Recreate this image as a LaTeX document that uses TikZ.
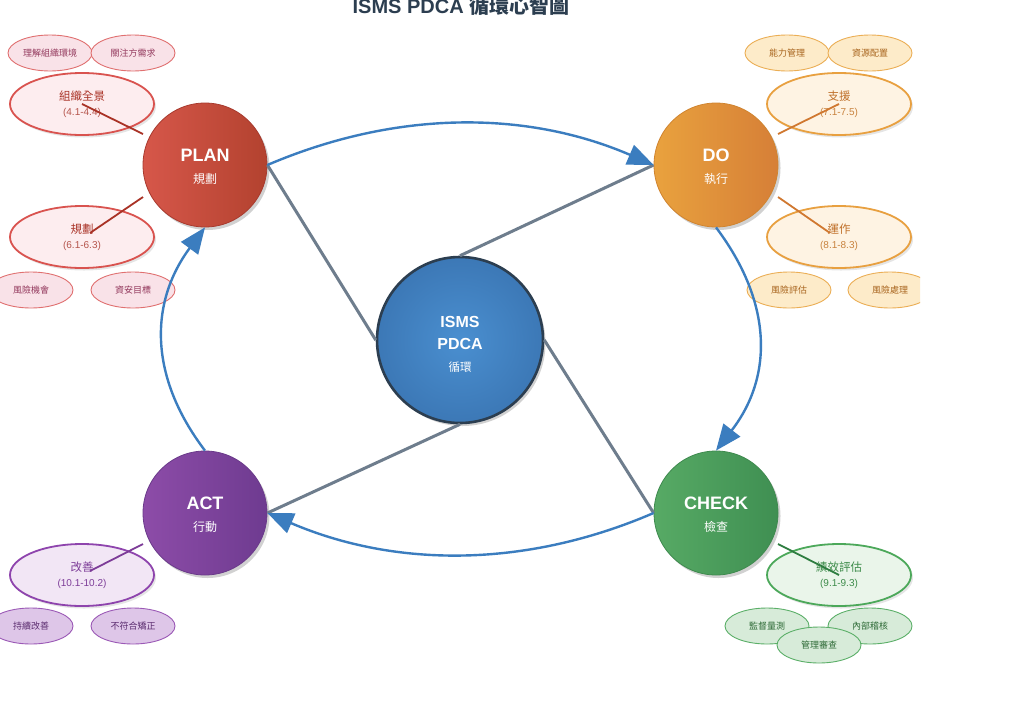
\documentclass[tikz,border=0pt]{standalone}
\usepackage{fontspec}
\setmainfont{Liberation Sans}
\newfontfamily\cjk{Noto Sans CJK TC}
\usetikzlibrary{shapes.geometric,arrows.meta,shadows,calc}
\definecolor{titlec}{HTML}{2C3E50}
\definecolor{planL}{HTML}{D6574A}
\definecolor{planR}{HTML}{B3422F}
\definecolor{planB}{HTML}{A83A2E}
\definecolor{doL}{HTML}{E9A23E}
\definecolor{doR}{HTML}{D67F37}
\definecolor{doB}{HTML}{D0842F}
\definecolor{actL}{HTML}{8D4CA8}
\definecolor{actR}{HTML}{6E3B90}
\definecolor{actB}{HTML}{6A3A8A}
\definecolor{chkL}{HTML}{57AA65}
\definecolor{chkR}{HTML}{3F8F52}
\definecolor{chkB}{HTML}{3E8A4E}
\definecolor{hubI}{HTML}{4A8FD0}
\definecolor{hubO}{HTML}{3C78B6}
\definecolor{hubB}{HTML}{2C3E50}
\definecolor{flowc}{HTML}{3B7DBF}
\definecolor{spokec}{HTML}{6E7D8D}
% PLAN group
\definecolor{pMainF}{HTML}{FDEDEF}
\definecolor{pMainD}{HTML}{D9534F}
\definecolor{pLeafF}{HTML}{F9E2E8}
\definecolor{pLeafD}{HTML}{E07070}
\definecolor{pText}{HTML}{A93226}
\definecolor{pSub}{HTML}{B5554C}
\definecolor{pLeafT}{HTML}{943A5E}
% DO group
\definecolor{dMainF}{HTML}{FEF3E3}
\definecolor{dMainD}{HTML}{E8A040}
\definecolor{dLeafF}{HTML}{FDEBC9}
\definecolor{dLeafD}{HTML}{EBAE55}
\definecolor{dText}{HTML}{C0702A}
\definecolor{dSub}{HTML}{C8823E}
\definecolor{dLeafT}{HTML}{A8651E}
\definecolor{dLine}{HTML}{D07830}
% ACT group
\definecolor{aMainF}{HTML}{F2E6F5}
\definecolor{aMainD}{HTML}{8E44AD}
\definecolor{aLeafF}{HTML}{DEC6E8}
\definecolor{aLeafD}{HTML}{9B59B6}
\definecolor{aText}{HTML}{7D3C98}
\definecolor{aLeafT}{HTML}{5B2C6F}
% CHECK group
\definecolor{cMainF}{HTML}{EAF5EA}
\definecolor{cMainD}{HTML}{4CA85A}
\definecolor{cLeafF}{HTML}{D7EBD9}
\definecolor{cLeafD}{HTML}{5BAF68}
\definecolor{cText}{HTML}{3D8B4A}
\definecolor{cLeafT}{HTML}{2D6A36}
\definecolor{cLine}{HTML}{2E7D40}
\tikzset{
  phase/.style={circle, minimum size=124pt, inner sep=0pt, text=white, align=center, line width=0.8pt,
    font=\fontsize{12}{22}\selectfont,
    drop shadow={shadow xshift=2.5pt, shadow yshift=-3pt, opacity=0.18, fill=black}},
  topic/.style={ellipse, minimum width=144pt, minimum height=62pt, inner sep=0pt, line width=1.8pt, align=center,
    font=\fontsize{10}{15}\selectfont,
    drop shadow={shadow xshift=2pt, shadow yshift=-2.5pt, opacity=0.10, fill=black}},
  leaf/.style={ellipse, minimum width=84pt, minimum height=36pt, inner sep=0pt, line width=0.9pt,
    font=\fontsize{9}{11}\selectfont\cjk},
  flow/.style={draw=flowc, line width=2.4pt, -{Triangle[length=26pt,width=21pt]}},
  link/.style={draw=spokec, line width=3pt},
  twig/.style={line width=1.8pt},
}
\newcommand{\toptxt}[2]{{\fontsize{11.5}{15}\selectfont\cjk #1}\\{\fontsize{10}{15}\selectfont #2}}
\begin{document}
\begin{tikzpicture}[x=1pt,y=-1pt]
\useasboundingbox (0,0) rectangle (1024,723);
\fill[white] (0,0) rectangle (1024,723);

% title
\node[anchor=base, text=titlec, inner sep=0pt] (title) at (461,13)
  {\fontsize{20}{24}\selectfont\bfseries ISMS PDCA {\cjk 循環心智圖}};

% leaf ellipses
\node[leaf, fill=pLeafF, draw=pLeafD, text=pLeafT] (l1) at (50,53) {理解組織環境};
\node[leaf, fill=pLeafF, draw=pLeafD, text=pLeafT] (l2) at (133,53) {關注方需求};
\node[leaf, fill=pLeafF, draw=pLeafD, text=pLeafT] (l3) at (31,290) {風險機會};
\node[leaf, fill=pLeafF, draw=pLeafD, text=pLeafT] (l4) at (133,290) {資安目標};

\node[leaf, fill=dLeafF, draw=dLeafD, text=dLeafT] (l5) at (787,53) {能力管理};
\node[leaf, fill=dLeafF, draw=dLeafD, text=dLeafT] (l6) at (870,53) {資源配置};
\node[leaf, fill=dLeafF, draw=dLeafD, text=dLeafT] (l7) at (789,290) {風險評估};
\begin{scope}
\clip (0,0) rectangle (920,723);
\node[leaf, fill=dLeafF, draw=dLeafD, text=dLeafT] (l8) at (890,290) {風險處理};
\end{scope}

\node[leaf, fill=aLeafF, draw=aLeafD, text=aLeafT] (l9) at (31,626) {持續改善};
\node[leaf, fill=aLeafF, draw=aLeafD, text=aLeafT] (l10) at (133,626) {不符合矯正};

\node[leaf, fill=cLeafF, draw=cLeafD, text=cLeafT] (l11) at (767,626) {監督量測};
\node[leaf, fill=cLeafF, draw=cLeafD, text=cLeafT] (l12) at (870,626) {內部稽核};
\node[leaf, fill=cLeafF, draw=cLeafD, text=cLeafT] (l13) at (819,645) {管理審查};

% topic ellipses
\node[topic, fill=pMainF, draw=pMainD, text=pText] (t1) at (82,104) {\toptxt{組織全景}{\color{pSub}(4.1-4.4)}};
\node[topic, fill=pMainF, draw=pMainD, text=pText] (t2) at (82,237) {\toptxt{規劃}{\color{pSub}(6.1-6.3)}};
\node[topic, fill=dMainF, draw=dMainD, text=dText] (t3) at (839,104) {\toptxt{支援}{\color{dSub}(7.1-7.5)}};
\node[topic, fill=dMainF, draw=dMainD, text=dText] (t4) at (839,237) {\toptxt{運作}{\color{dSub}(8.1-8.3)}};
\node[topic, fill=aMainF, draw=aMainD, text=aText] (t5) at (82,575) {\toptxt{改善}{(10.1-10.2)}};
\node[topic, fill=cMainF, draw=cMainD, text=cText] (t6) at (839,575) {\toptxt{績效評估}{(9.1-9.3)}};

% phase circles
\node[phase, left color=planL, right color=planR, draw=planB] (plan) at (205,165)
  {{\fontsize{18}{22}\selectfont\bfseries\rule{0pt}{16pt}PLAN}\\{\cjk 規劃}};
\node[phase, left color=doL, right color=doR, draw=doB] (do) at (716,165)
  {{\fontsize{18}{22}\selectfont\bfseries\rule{0pt}{16pt}DO}\\{\cjk 執行}};
\node[phase, left color=actL, right color=actR, draw=actB] (act) at (205,513)
  {{\fontsize{18}{22}\selectfont\bfseries\rule{0pt}{16pt}ACT}\\{\cjk 行動}};
\node[phase, left color=chkL, right color=chkR, draw=chkB] (check) at (716,513)
  {{\fontsize{18}{22}\selectfont\bfseries\rule{0pt}{16pt}CHECK}\\{\cjk 檢查}};
\node[phase, minimum size=166pt, inner color=hubI, outer color=hubO, draw=hubB, line width=2.6pt,
      font=\fontsize{11.5}{22}\selectfont] (hub) at (460,340)
  {{\fontsize{16}{22}\selectfont\bfseries\rule{0pt}{20pt}ISMS}\\{\fontsize{16}{22}\selectfont\bfseries PDCA}\\{\cjk 循環}};

% spokes
\draw[link] (plan.east) -- (hub.west);
\draw[link] (hub.north) -- (do.west);
\draw[link] (hub.south) -- (act.east);
\draw[link] (hub.east) -- (check.west);

% cycle arrows
\draw[flow] (plan.east) .. controls (396,110) and (526,110) .. (do.west);
\draw[flow] (do.south) .. controls (773,303) and (773,377) .. (check.north);
\draw[flow] (check.west) .. controls (526,568) and (396,568) .. (act.east);
\draw[flow] (act.north) .. controls (149,377) and (149,303) .. (plan.south);

% twigs from phases to topics
\coordinate (p1) at (143,134);
\coordinate (p2) at (143,197);
\coordinate (d1) at (778,134);
\coordinate (d2) at (778,197);
\coordinate (a1) at (143,544);
\coordinate (c1) at (778,544);
\draw[twig, draw=pText] (p1) -- (t1.center);
\draw[twig, draw=pText] (p2) -- ($(t2.center)+(8,-4)$);
\draw[twig, draw=dLine] (d1) -- (t3.center);
\draw[twig, draw=dLine] (d2) -- ($(t4.center)+(-9,-4)$);
\draw[twig, draw=aText] (a1) -- ($(t5.center)+(8,-4)$);
\draw[twig, draw=cLine] (c1) -- (t6.center);
\end{tikzpicture}
\end{document}
